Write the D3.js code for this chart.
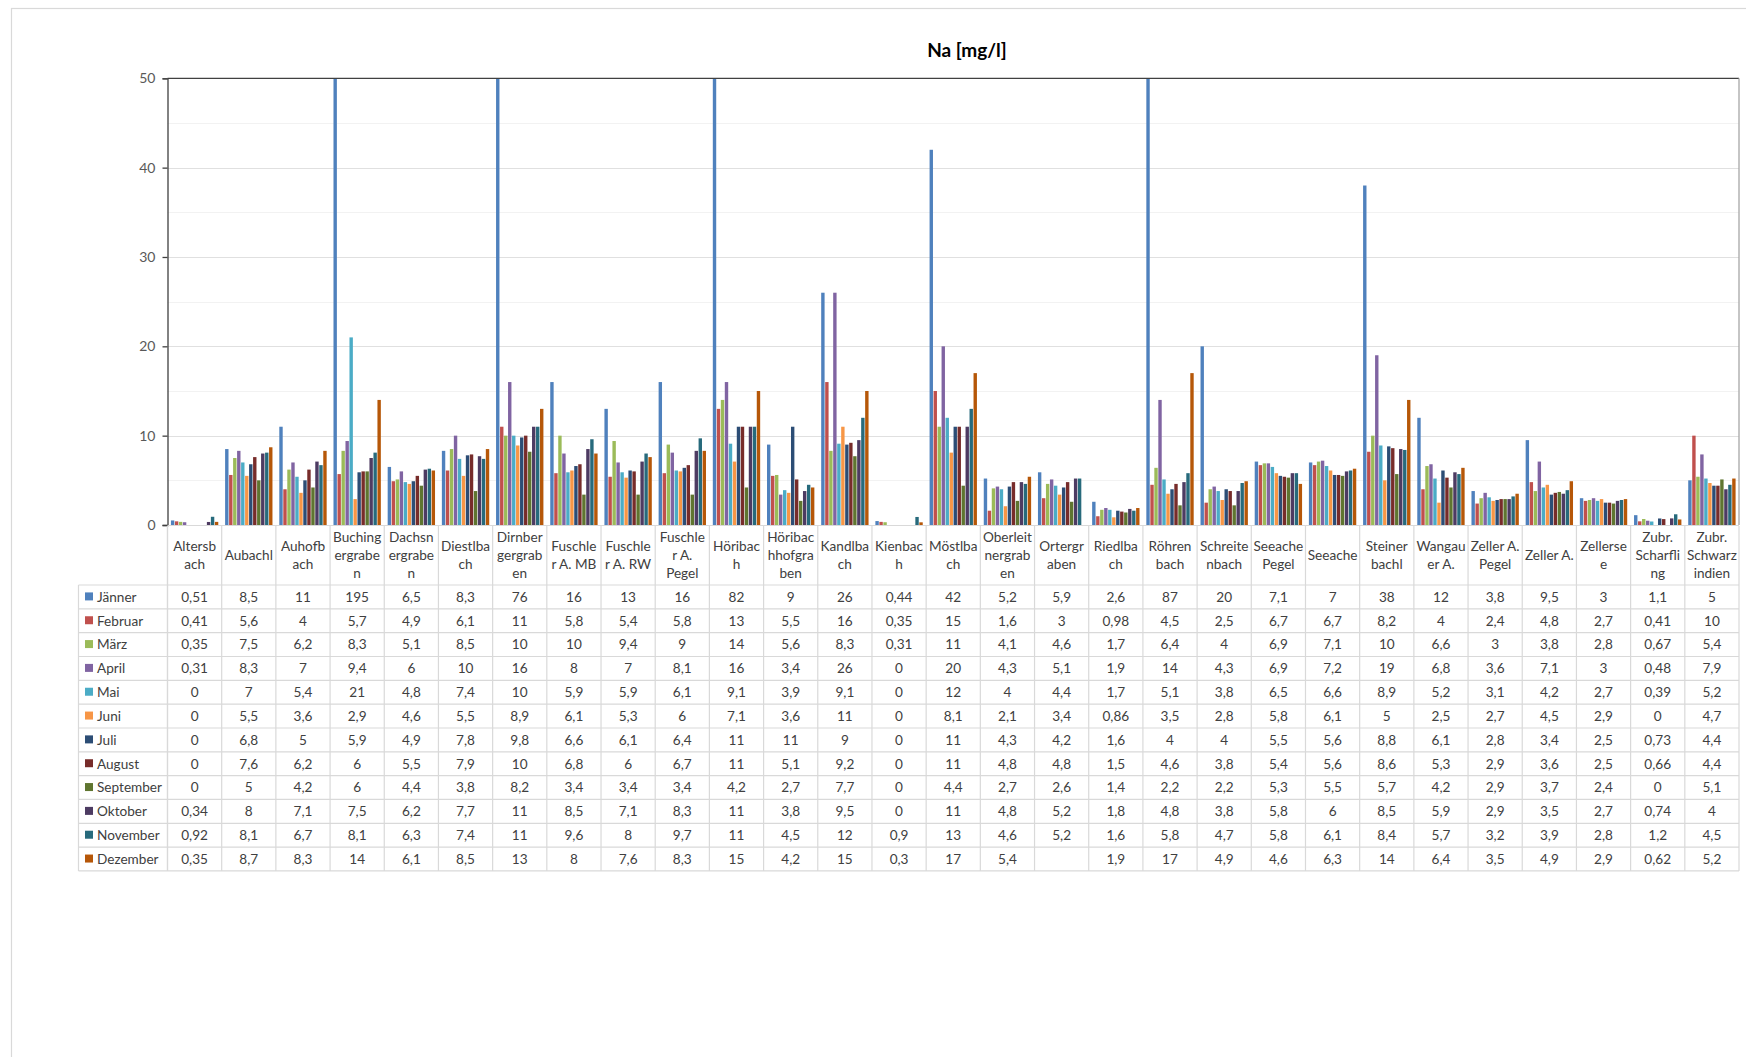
<!DOCTYPE html>
<html>
<head>
<meta charset="utf-8">
<script src="https://cdn.jsdelivr.net/npm/d3@7"></script>
<style>
  html, body { margin: 0; padding: 0; background: #fff; }
  svg { display: block; font-family: Lato, "Open Sans", sans-serif; }
</style>
</head>
<body>
<script>
// ---------------- DATA ----------------
const categories = ["Altersbach","Aubachl","Auhofbach","Buchinggraben","Dachsnergraben","Diestlbach","Dirnbergergraben","Fuschler A. MB","Fuschler A. RW","Fuschler A. Pegel","Höribach","Höribachhofgraben","Kandlbach","Kienbach","Möstlbach","Oberleitnergraben","Ortergraben","Riedlbach","Röhrenbach","Schreitenbach","Seeache Pegel","Seeache","Steinerbachl","Wangauer A.","Zeller A. Pegel","Zeller A.","Zellersee","Zubr. Scharfling","Zubr. Schwarzindien"];
// wrapped header labels as shown in the data table
const categoryLabels = ["Altersb|ach","Aubachl","Auhofb|ach","Buching|ergrabe|n","Dachsn|ergrabe|n","Diestlba|ch","Dirnber|gergrab|en","Fuschle|r A. MB","Fuschle|r A. RW","Fuschle|r A.|Pegel","Höribac|h","Höribac|hhofgra|ben","Kandlba|ch","Kienbac|h","Möstlba|ch","Oberleit|nergrab|en","Ortergr|aben","Riedlba|ch","Röhren|bach","Schreite|nbach","Seeache|Pegel","Seeache","Steiner|bachl","Wangau|er A.","Zeller A.|Pegel","Zeller A.","Zellerse|e","Zubr.|Scharfli|ng","Zubr.|Schwarz|indien"];
const months = ["Jänner","Februar","März","April","Mai","Juni","Juli","August","September","Oktober","November","Dezember"];
const colors = ["#4F81BD","#C0504D","#9BBB59","#8064A2","#4BACC6","#F79646","#2C4D75","#772C2A","#5F7530","#4D3B62","#276A7C","#B65708"];

const jaenner   = [0.51,8.5,11,195,6.5,8.3,76,16,13,16,82,9,26,0.44,42,5.2,5.9,2.6,87,20,7.1,7,38,12,3.8,9.5,3,1.1,5];
const februar   = [0.41,5.6,4,5.7,4.9,6.1,11,5.8,5.4,5.8,13,5.5,16,0.35,15,1.6,3,0.98,4.5,2.5,6.7,6.7,8.2,4,2.4,4.8,2.7,0.41,10];
const maerz     = [0.35,7.5,6.2,8.3,5.1,8.5,10,10,9.4,9,14,5.6,8.3,0.31,11,4.1,4.6,1.7,6.4,4,6.9,7.1,10,6.6,3,3.8,2.8,0.67,5.4];
const april     = [0.31,8.3,7,9.4,6,10,16,8,7,8.1,16,3.4,26,0,20,4.3,5.1,1.9,14,4.3,6.9,7.2,19,6.8,3.6,7.1,3,0.48,7.9];
const mai       = [0,7,5.4,21,4.8,7.4,10,5.9,5.9,6.1,9.1,3.9,9.1,0,12,4,4.4,1.7,5.1,3.8,6.5,6.6,8.9,5.2,3.1,4.2,2.7,0.39,5.2];
const juni      = [0,5.5,3.6,2.9,4.6,5.5,8.9,6.1,5.3,6,7.1,3.6,11,0,8.1,2.1,3.4,0.86,3.5,2.8,5.8,6.1,5,2.5,2.7,4.5,2.9,0,4.7];
const juli      = [0,6.8,5,5.9,4.9,7.8,9.8,6.6,6.1,6.4,11,11,9,0,11,4.3,4.2,1.6,4,4,5.5,5.6,8.8,6.1,2.8,3.4,2.5,0.73,4.4];
const august    = [0,7.6,6.2,6,5.5,7.9,10,6.8,6,6.7,11,5.1,9.2,0,11,4.8,4.8,1.5,4.6,3.8,5.4,5.6,8.6,5.3,2.9,3.6,2.5,0.66,4.4];
const september = [0,5,4.2,6,4.4,3.8,8.2,3.4,3.4,3.4,4.2,2.7,7.7,0,4.4,2.7,2.6,1.4,2.2,2.2,5.3,5.5,5.7,4.2,2.9,3.7,2.4,0,5.1];
const oktober   = [0.34,8,7.1,7.5,6.2,7.7,11,8.5,7.1,8.3,11,3.8,9.5,0,11,4.8,5.2,1.8,4.8,3.8,5.8,6,8.5,5.9,2.9,3.5,2.7,0.74,4];
const november  = [0.92,8.1,6.7,8.1,6.3,7.4,11,9.6,8,9.7,11,4.5,12,0.9,13,4.6,5.2,1.6,5.8,4.7,5.8,6.1,8.4,5.7,3.2,3.9,2.8,1.2,4.5];
const dezember  = [0.35,8.7,8.3,14,6.1,8.5,13,8,7.6,8.3,15,4.2,15,0.3,17,5.4,null,1.9,17,4.9,4.6,6.3,14,6.4,3.5,4.9,2.9,0.62,5.2];
const seriesValues = [jaenner,februar,maerz,april,mai,juni,juli,august,september,oktober,november,dezember];

const yTicks = [0,10,20,30,40,50];
const yMinorTicks = [5,15,25,35,45];
const title = "Na [mg/l]";

// ---------------- LAYOUT ----------------
const W = 1746, H = 1057;
const plot = { left: 167.5, right: 1739, top: 78.3, bottom: 525 };
const table = { left: 78.5, headerBottom: 585, rowH: 23.83 };
const FS = "13.6px";

const svg = d3.select("body").append("svg").attr("width", W).attr("height", H);

// outer chart frame
svg.append("rect").attr("x", 11.5).attr("y", 8.5).attr("width", W + 20).attr("height", H + 20)
  .attr("fill", "#fff").attr("stroke", "#d9d9d9").attr("stroke-width", 1.2);

const x0 = d3.scaleBand().domain(categories).range([plot.left, plot.right]).padding(0);
const x1 = d3.scaleBand().domain(months).range([0, x0.bandwidth()]).paddingInner(0).paddingOuter(0.78);
const y = d3.scaleLinear().domain([0, 50]).range([plot.bottom, plot.top]);

// gridlines
svg.append("g").selectAll("line").data(yMinorTicks).join("line")
  .attr("x1", plot.left).attr("x2", plot.right)
  .attr("y1", d => Math.round(y(d)) + 0.5).attr("y2", d => Math.round(y(d)) + 0.5)
  .attr("stroke", "#f2f2f2").attr("stroke-width", 1);
svg.append("g").selectAll("line").data(yTicks.filter(d => d > 0 && d < 50)).join("line")
  .attr("x1", plot.left).attr("x2", plot.right)
  .attr("y1", d => Math.round(y(d)) + 0.5).attr("y2", d => Math.round(y(d)) + 0.5)
  .attr("stroke", "#e0e0e0").attr("stroke-width", 1);

// clip for bars
svg.append("clipPath").attr("id", "plotclip").append("rect")
  .attr("x", plot.left).attr("y", plot.top).attr("width", plot.right - plot.left).attr("height", plot.bottom - plot.top);

// bars
const barData = [];
categories.forEach((c, ci) => {
  months.forEach((m, mi) => {
    const v = seriesValues[mi][ci];
    if (v !== null && v > 0) barData.push({ c, m, v, mi });
  });
});
svg.append("g").attr("clip-path", "url(#plotclip)")
  .selectAll("rect").data(barData).join("rect")
  .attr("x", d => x0(d.c) + x1(d.m) + 0.3)
  .attr("width", x1.bandwidth() - 0.6)
  .attr("y", d => y(Math.min(d.v, 52)))
  .attr("height", d => y(0) - y(Math.min(d.v, 52)))
  .attr("fill", d => colors[d.mi]);

// plot border: top dark, right gray
svg.append("line").attr("x1", plot.left).attr("x2", plot.right).attr("y1", plot.top).attr("y2", plot.top)
  .attr("stroke", "#404040").attr("stroke-width", 1.3);
svg.append("line").attr("x1", plot.right).attr("x2", plot.right).attr("y1", plot.top).attr("y2", plot.bottom)
  .attr("stroke", "#a6a6a6").attr("stroke-width", 1.3);

// y axis
const yAxis = d3.axisLeft(y).tickValues(yTicks).tickSize(5).tickPadding(7);
const yg = svg.append("g").attr("transform", `translate(${plot.left},0)`).call(yAxis);
yg.select(".domain").attr("stroke", "#404040").attr("stroke-width", 1.3);
yg.selectAll(".tick line").attr("stroke", "#404040").attr("stroke-width", 1.3);
yg.selectAll(".tick text").attr("fill", "#595959").style("font-size", "14px").style("font-family", "Lato, sans-serif");

// title
svg.append("text").attr("x", 967).attr("y", 57).attr("text-anchor", "middle")
  .style("font-size", "19px").style("font-weight", "bold").attr("fill", "#000").text(title);

// ---------------- DATA TABLE ----------------
const gridColor = "#d9d9d9";
const tableBottom = table.headerBottom + months.length * table.rowH;
const tg = svg.append("g");

// horizontal lines
tg.append("line").attr("x1", plot.left).attr("x2", plot.right).attr("y1", plot.bottom + 0.5).attr("y2", plot.bottom + 0.5)
  .attr("stroke", gridColor).attr("stroke-width", 1.2);
d3.range(months.length + 1).forEach(i => {
  const yy = table.headerBottom + i * table.rowH;
  tg.append("line").attr("x1", table.left).attr("x2", plot.right).attr("y1", yy).attr("y2", yy)
    .attr("stroke", gridColor).attr("stroke-width", 1.2);
});
// vertical lines
tg.append("line").attr("x1", table.left).attr("x2", table.left).attr("y1", table.headerBottom).attr("y2", tableBottom)
  .attr("stroke", gridColor).attr("stroke-width", 1.2);
categories.concat([null]).forEach((c, i) => {
  const xx = c === null ? plot.right : x0(c);
  tg.append("line").attr("x1", xx).attr("x2", xx).attr("y1", plot.bottom + 1).attr("y2", tableBottom)
    .attr("stroke", gridColor).attr("stroke-width", i === 0 ? 1.4 : 1.2);
});

// header labels
categories.forEach((c, i) => {
  const lines = categoryLabels[i].split("|");
  const cx = x0(c) + x0.bandwidth() / 2;
  const cy = (plot.bottom + table.headerBottom) / 2;
  const lh = 18;
  const t = tg.append("text").attr("text-anchor", "middle").attr("fill", "#404040").style("font-size", FS);
  lines.forEach((ln, k) => {
    t.append("tspan").attr("x", cx).attr("y", cy + (k - (lines.length - 1) / 2) * lh).attr("dy", "0.35em").text(ln);
  });
});

// rows
const fmt = v => v === null ? "" : String(v).replace(".", ",");
months.forEach((m, mi) => {
  const cy = table.headerBottom + (mi + 0.5) * table.rowH;
  tg.append("rect").attr("x", 85).attr("y", cy - 4.5).attr("width", 8).attr("height", 8).attr("fill", colors[mi]);
  tg.append("text").attr("x", 97).attr("y", cy).attr("dy", "0.36em").attr("fill", "#404040")
    .style("font-size", FS).text(m);
  categories.forEach((c, ci) => {
    tg.append("text").attr("x", x0(c) + x0.bandwidth() / 2).attr("y", cy).attr("dy", "0.36em")
      .attr("text-anchor", "middle").attr("fill", "#404040").style("font-size", FS)
      .text(fmt(seriesValues[mi][ci]));
  });
});
</script>
</body>
</html>
